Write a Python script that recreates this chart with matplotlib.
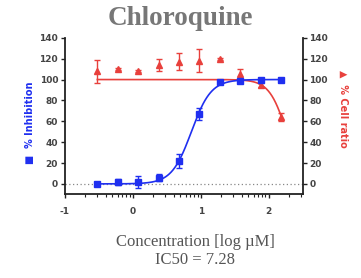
import numpy as np
import matplotlib
matplotlib.use("Agg")
import matplotlib.pyplot as plt
from matplotlib.ticker import FixedLocator

# ---- data ----
log_conc = [-0.523, -0.222, 0.079, 0.380, 0.681, 0.982, 1.283, 1.584, 1.885, 2.186]
inhibition = [0, 2, 2, 6, 22, 67, 98, 99, 100, 100]
inhibition_err = [1, 3, 6, 3, 7, 6, 2, 2, 1, 1]
cell_ratio = [108, 110, 108, 114, 117, 118, 120, 105, 95, 64]
cell_ratio_err = [11, 1, 1, 6, 8, 11, 1, 5, 2, 4]

# fitted curve parameters (4PL)
inh_top, inh_bottom, inh_logic50, inh_hill = 100, 0, np.log10(7.28), 3.0
cell_top, cell_bottom, cell_logic50, cell_hill = 100, 0, 2.264, 3.4

xticks = [-1, 0, 1, 2]
yticks = [0, 20, 40, 60, 80, 100, 120, 140]

blue = "#1f2ff0"
red = "#e8403c"
gray_text = "#444444"

fig = plt.figure(figsize=(3.61, 2.78), dpi=100)
ax = fig.add_axes([0.180, 0.301, 0.658, 0.563])
ax.set_xlim(-1, 2.5)
ax.set_ylim(-10, 140)

xs = np.linspace(log_conc[0], log_conc[-1], 300)
inh_curve = inh_bottom + (inh_top - inh_bottom) / (1 + 10 ** ((inh_logic50 - xs) * inh_hill))
cell_curve = cell_bottom + (cell_top - cell_bottom) / (1 + 10 ** ((xs - cell_logic50) * cell_hill))

ax.axhline(0, color="#888888", lw=0.9, ls=(0, (1, 2)), zorder=1)
ax.plot(xs, cell_curve, color=red, lw=1.2, zorder=2)
ax.errorbar(log_conc, cell_ratio, yerr=cell_ratio_err, fmt="^", color=red, ms=4,
            capsize=2.5, elinewidth=1.0, capthick=1.0, zorder=3)
ax.plot(xs, inh_curve, color=blue, lw=1.2, zorder=4)
ax.errorbar(log_conc, inhibition, yerr=inhibition_err, fmt="s", color=blue, ms=4,
            capsize=2.5, elinewidth=1.0, capthick=1.0, zorder=5)

# x ticks: major + log minor ticks
ax.set_xticks(xticks)
minor = [d + np.log10(k) for d in range(-1, 3) for k in range(2, 10) if d + np.log10(k) < 2.5]
ax.xaxis.set_minor_locator(FixedLocator(minor))
ax.set_yticks(yticks)
ax.spines["top"].set_visible(False)
for s in ["left", "right", "bottom"]:
    ax.spines[s].set_linewidth(1.3)
    ax.spines[s].set_color("#222222")
ax.spines["left"].set_bounds(-10, 140)
ax.spines["right"].set_bounds(-10, 140)

ax.tick_params(axis="both", which="major", length=3, width=1.0, color="#222222",
               labelsize=6.5, labelcolor=gray_text, pad=2)
ax.tick_params(axis="x", which="minor", length=2, width=0.8, color="#222222")
ax.tick_params(axis="x", which="major", pad=6)
ax.tick_params(axis="y", right=True, labelright=True)
for lbl in ax.get_yticklabels():
    lbl.set_fontweight("bold")
ax.set_xticklabels(["-1", "0", "1", "2"], fontweight="bold")

fig.text(0.50, 0.933, "Chloroquine", ha="center", va="center", fontsize=19.5,
         fontweight="bold", family="Liberation Serif", color="#777777")
fig.text(0.54, 0.131, "Concentration [log µM]", ha="center", va="center",
         fontsize=12, family="Liberation Serif", color="#555555")
fig.text(0.54, 0.065, "IC50 = 7.28", ha="center", va="center",
         fontsize=12, family="Liberation Serif", color="#555555")
fig.text(0.083, 0.56, "■  % Inhibition", ha="center", va="center", rotation=90,
         fontsize=7, color=blue, fontweight="bold")
fig.text(0.950, 0.61, "▲  % Cell ratio", ha="center", va="center", rotation=270,
         fontsize=7, color=red, fontweight="bold")

fig.savefig("out.png", dpi=100)
